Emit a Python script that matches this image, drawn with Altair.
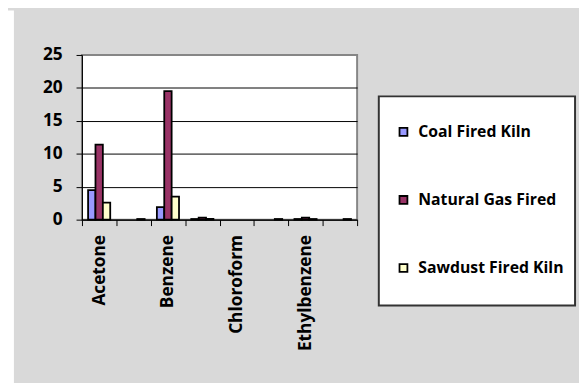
import altair as alt
import pandas as pd

categories = ["Acetone", "Acrolein", "Benzene", "Carbon Disulfide",
              "Chloroform", "Chloromethane", "Ethylbenzene", "Toluene"]
shown_labels = ["Acetone", "Benzene", "Chloroform", "Ethylbenzene"]
series = ["Coal Fired Kiln", "Natural Gas Fired", "Sawdust Fired Kiln"]
coal = [4.5, 0, 1.9, 0.1, 0, 0, 0.1, 0]
gas = [11.4, 0, 19.5, 0.3, 0, 0, 0.3, 0]
sawdust = [2.6, 0.1, 3.5, 0.1, 0, 0.1, 0.1, 0.1]
colors = ["#9999FF", "#993366", "#FFFFCC"]
y_ticks = [0, 5, 10, 15, 20, 25]

rows = []
for s, vals in zip(series, [coal, gas, sawdust]):
    for c, v in zip(categories, vals):
        rows.append({"category": c, "series": s, "value": v})
df = pd.DataFrame(rows)

W, H = 279, 167
FONT = "Open Sans"

label_list = ",".join("'" + l + "'" for l in shown_labels)
label_expr = f"indexof([{label_list}], datum.value) >= 0 ? datum.label : ''"

bars = alt.Chart(df).transform_filter("datum.value > 0").mark_bar(
    stroke="black", strokeWidth=1.8
).encode(
    x=alt.X("category:N", sort=categories,
            scale=alt.Scale(domain=categories, paddingInner=0, paddingOuter=0),
            axis=alt.Axis(title=None, tickBand="extent", labelAngle=270,
                          labelAlign="right", labelBaseline="middle",
                          labelPadding=9, labelFontSize=17.5, labelFont=FONT,
                          labelFontWeight="bold", labelColor="black",
                          tickSize=6, tickColor="black", domainColor="black",
                          grid=False, labelExpr=label_expr)),
    xOffset=alt.XOffset("series:N", sort=series,
                        scale=alt.Scale(domain=series, paddingInner=0, paddingOuter=0.83)),
    y=alt.Y("value:Q", scale=alt.Scale(domain=[0, 25], nice=False),
            axis=alt.Axis(title=None, values=y_ticks, grid=True,
                          gridColor=alt.condition("datum.value == 25", alt.value("#868686"), alt.value("black")),
                          gridWidth=1, domainColor="black", tickColor="black",
                          tickSize=6, labelPadding=14, labelFontSize=17.5,
                          labelFont=FONT, labelFontWeight="bold", labelColor="black")),
    color=alt.Color("series:N", sort=series,
                    scale=alt.Scale(domain=series, range=colors),
                    legend=alt.Legend(title=None, orient="none", legendX=318, legendY=70,
                                      padding=0, symbolType="square", symbolSize=64,
                                      symbolStrokeColor="black", symbolStrokeWidth=1.8,
                                      symbolOpacity=1, labelOffset=7, rowPadding=53,
                                      labelFont=FONT, labelFontSize=16,
                                      labelFontWeight="bold", labelColor="black")),
)

one = alt.Data(values=[{}])
left_strip = alt.Chart(one).mark_rect(color="white").encode(
    x=alt.value(-75), x2=alt.value(-69), y=alt.value(-45), y2=alt.value(335))
legend_box = alt.Chart(one).mark_rect(fill="white", stroke="#333333", strokeWidth=2).encode(
    x=alt.value(301), x2=alt.value(500), y=alt.value(42), y2=alt.value(254))

chart = alt.layer(left_strip, legend_box, bars).properties(
    width=W, height=H,
    autosize=alt.AutoSizeParams(type="none"),
    padding={"left": 75, "top": 45, "right": 225, "bottom": 163},
).configure(background="#d9d9d9").configure_view(
    fill="white", stroke="#868686", strokeWidth=2
)

chart.save("out.html", embed_options={"renderer": "svg", "actions": False})
